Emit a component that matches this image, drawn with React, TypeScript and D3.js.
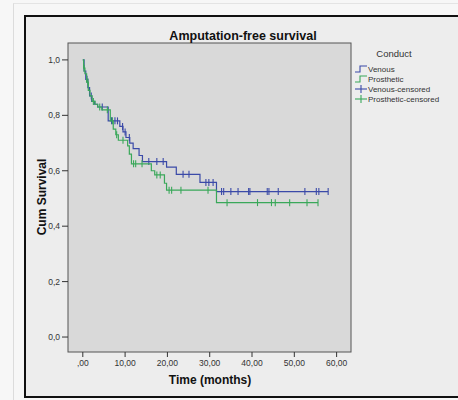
import React from "react";
import * as d3 from "d3";

// Kaplan-Meier steps: [time, survival after step]
const venousSteps: [number, number][] = [
  [0, 1.0], [0.3, 0.96], [0.7, 0.93], [1.2, 0.9], [1.6, 0.87], [2.1, 0.85], [2.8, 0.84], [3.5, 0.83],
  [6.0, 0.78], [8.75, 0.76], [9.5, 0.74], [10.2, 0.72], [11.1, 0.7], [11.9, 0.68], [13.3, 0.655],
  [14.1, 0.633], [19.8, 0.613], [22.1, 0.587], [27.7, 0.558], [31.6, 0.525],
];
const venousEnd = 58;
const venousCensored = [1.0, 2.0, 4.6, 6.8, 7.6, 8.2, 9.4, 10.0, 11.0, 15.6, 17.5, 19.0, 23.7, 25.1, 29.1, 29.8, 30.8,
  32.8, 33.3, 35, 36.7, 39.2, 39.5, 43.6, 44, 46.2, 52.5, 55.2, 55.8, 58];

const prostheticSteps: [number, number][] = [
  [0, 1.0], [0.2, 0.97], [0.5, 0.95], [0.9, 0.92], [1.3, 0.89], [1.7, 0.87], [2.2, 0.85], [2.9, 0.84], [3.5, 0.83],
  [4.5, 0.82], [6.5, 0.78], [7.2, 0.75], [7.8, 0.73], [8.4, 0.71], [10.6, 0.69], [11.0, 0.66], [11.5, 0.625],
  [16.2, 0.6], [17.0, 0.585], [19.3, 0.555], [19.8, 0.53], [31.6, 0.485],
];
const prostheticEnd = 55.6;
const prostheticCensored = [0.3, 1.2, 2.5, 4.0, 5.8, 7.0, 8.0, 9.5, 12.0, 12.5, 14.0, 17.5, 18.3, 20.4, 21.0, 23.2, 29.6,
  34.1, 41.3, 44.6, 45.5, 48.9, 53, 55.6];

const xTicks = [0, 10, 20, 30, 40, 50, 60];
const xTickLabels = [",00", "10,00", "20,00", "30,00", "40,00", "50,00", "60,00"];
const yTicks = [0, 0.2, 0.4, 0.6, 0.8, 1.0];
const yTickLabels = ["0,0", "0,2", "0,4", "0,6", "0,8", "1,0"];
const legendItems = ["Venous", "Prosthetic", "Venous-censored", "Prosthetic-censored"];

const BLUE = "#3b4aa8";
const GREEN = "#3aa85a";

function survAt(steps: [number, number][], t: number) {
  let s = steps[0][1];
  for (const [tt, v] of steps) if (tt <= t) s = v;
  return s;
}

export default function App() {
  const W = 458, H = 400;
  const L = 68, R = 351, T = 43, B = 352;
  const x = d3.scaleLinear().domain([-3.5, 63.4]).range([L, R]);
  const y = d3.scaleLinear().domain([-0.054, 1.061]).range([B, T]);
  const line = d3.line<[number, number]>().x(d => x(d[0])).y(d => y(d[1])).curve(d3.curveStepAfter);

  const series = [
    { steps: venousSteps, end: venousEnd, cens: venousCensored, color: BLUE },
    { steps: prostheticSteps, end: prostheticEnd, cens: prostheticCensored, color: GREEN },
  ];

  const font = "Arial, 'Liberation Sans', sans-serif";

  return (
    <svg width={W} height={H} style={{ position: "absolute", left: 0, top: 0 }} fontFamily={font}>
      <rect x={0} y={0} width={W} height={H} fill="#f7f7f7" />
      <line x1={13.5} y1={3} x2={13.5} y2={H} stroke="#dcdcdc" />
      <line x1={13.5} y1={3.5} x2={W} y2={3.5} stroke="#e4e4e4" />
      <rect x={25} y={16} width={W} height={381} fill="#ededed" stroke="#111" strokeWidth={2} />
      <rect x={L} y={T} width={R - L} height={B - T} fill="#d9d9d9" stroke="#555" strokeWidth={1} />
      <text x={243} y={40} textAnchor="middle" fontSize={12.5} fontWeight="bold" fill="#111">Amputation-free survival</text>

      {yTicks.map((v, i) => (
        <g key={"y" + i}>
          <line x1={L - 6} x2={L} y1={y(v)} y2={y(v)} stroke="#333" />
          <text x={L - 8} y={y(v) + 3} textAnchor="end" fontSize={8.5} fill="#333">{yTickLabels[i]}</text>
        </g>
      ))}
      {xTicks.map((v, i) => (
        <g key={"x" + i}>
          <line x1={x(v)} x2={x(v)} y1={B} y2={B + 5} stroke="#333" />
          <text x={x(v)} y={B + 14} textAnchor="middle" fontSize={8.5} fill="#333">{xTickLabels[i]}</text>
        </g>
      ))}
      <text x={210} y={384} textAnchor="middle" fontSize={12} fontWeight="bold" fill="#111">Time (months)</text>
      <text transform={`translate(46,197) rotate(-90)`} textAnchor="middle" fontSize={12} fontWeight="bold" fill="#111">Cum Survival</text>

      {series.map((s, i) => {
        const pts: [number, number][] = [...s.steps, [s.end, s.steps[s.steps.length - 1][1]]];
        return (
          <g key={"s" + i}>
            <path d={line(pts) || ""} fill="none" stroke={s.color} strokeWidth={1.2} />
            {s.cens.map((t, j) => {
              const v = survAt(s.steps, t);
              return <line key={j} x1={x(t)} x2={x(t)} y1={y(v) - 3.5} y2={y(v) + 3.5} stroke={s.color} strokeWidth={1.1} />;
            })}
          </g>
        );
      })}

      <text x={394} y={57} textAnchor="middle" fontSize={9.5} fill="#333">Conduct</text>
      {legendItems.map((name, i) => {
        const ly = 69 + i * 10;
        const color = i % 2 === 0 ? BLUE : GREEN;
        return (
          <g key={"l" + i}>
            {i < 2 ? (
              <path d={`M355,${ly + 3} H360 V${ly - 3} H367`} fill="none" stroke={color} strokeWidth={1.1} />
            ) : (
              <g>
                <line x1={355} x2={367} y1={ly} y2={ly} stroke={color} strokeWidth={1.1} />
                <line x1={361} x2={361} y1={ly - 4} y2={ly + 4} stroke={color} strokeWidth={1.1} />
              </g>
            )}
            <text x={368} y={ly + 3} fontSize={8} fill="#333">{name}</text>
          </g>
        );
      })}
    </svg>
  );
}
